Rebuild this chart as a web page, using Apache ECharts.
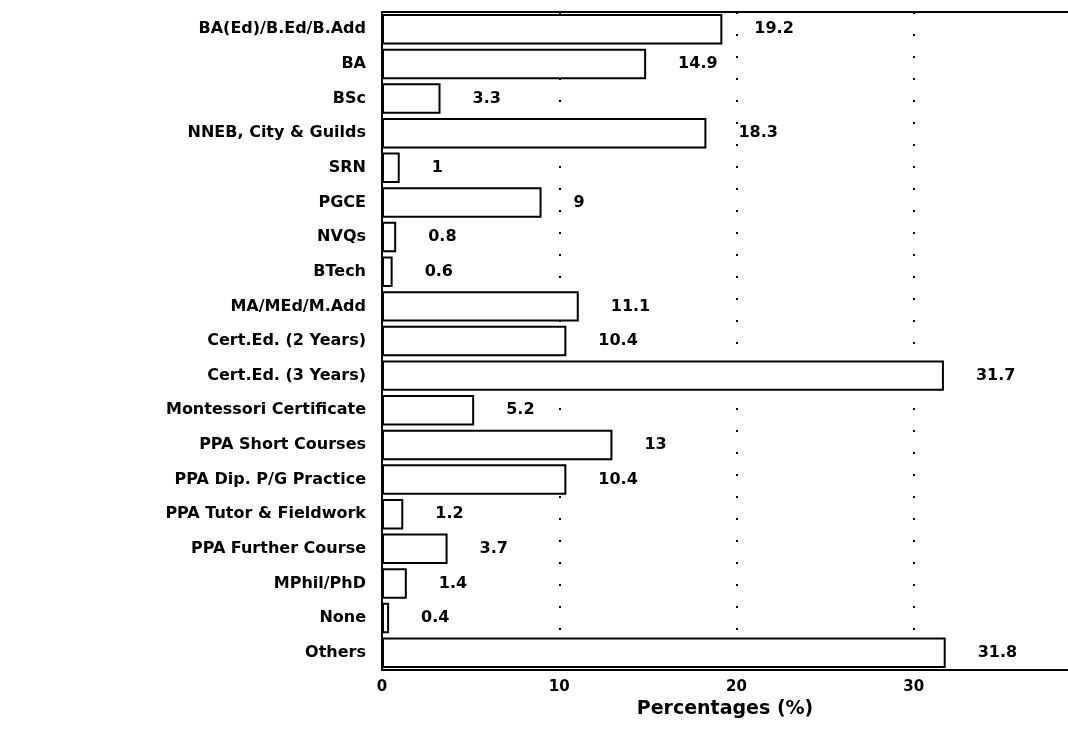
<!DOCTYPE html>
<html>
<head>
<meta charset="utf-8">
<script src="https://cdn.jsdelivr.net/npm/echarts@6/dist/echarts.min.js"></script>
<style>
  html, body { margin: 0; padding: 0; background: #fff; overflow: hidden; }
  #chart { width: 1068px; height: 736px; }
</style>
</head>
<body>
<div id="chart"></div>
<script>
const categories = [
  "BA(Ed)/B.Ed/B.Add", "BA", "BSc", "NNEB, City & Guilds", "SRN", "PGCE", "NVQs", "BTech",
  "MA/MEd/M.Add", "Cert.Ed. (2 Years)", "Cert.Ed. (3 Years)", "Montessori Certificate",
  "PPA Short Courses", "PPA Dip. P/G Practice", "PPA Tutor & Fieldwork", "PPA Further Course",
  "MPhil/PhD", "None", "Others"
];
const values = [19.2, 14.9, 3.3, 18.3, 1, 9, 0.8, 0.6, 11.1, 10.4, 31.7, 5.2, 13, 10.4, 1.2, 3.7, 1.4, 0.4, 31.8];
const axisTitle = "Percentages (%)";

const FONT = '"DejaVu Sans", "Liberation Sans", sans-serif';
const chart = echarts.init(document.getElementById('chart'));
chart.setOption({
  animation: false,
  backgroundColor: '#fff',
  grid: { left: 382, top: 12, right: 0, height: 658 },
  xAxis: [{
    type: 'value', min: 0, max: 38.7, interval: 10, position: 'bottom',
    name: axisTitle, nameLocation: 'middle', nameGap: 28,
    nameTextStyle: { color: '#000', fontFamily: FONT, fontWeight: 'bold', fontSize: 19 },
    axisLine: { show: true, lineStyle: { color: '#000', width: 2 } },
    axisTick: { show: false },
    axisLabel: { color: '#000', fontFamily: FONT, fontWeight: 'bold', fontSize: 15, margin: 10, showMaxLabel: false },
    splitLine: { show: true, showMaxLine: false, lineStyle: { color: '#000', width: 2, type: [2, 20] } }
  }, {
    type: 'value', min: 0, max: 38.7, interval: 10, position: 'top',
    axisLine: { show: true, onZero: false, lineStyle: { color: '#000', width: 2 } },
    axisTick: { show: false },
    axisLabel: { show: false },
    splitLine: { show: false }
  }],
  yAxis: {
    type: 'category', data: categories, inverse: true,
    axisLine: { show: true, lineStyle: { color: '#000', width: 2 } },
    axisTick: { show: false },
    axisLabel: { color: '#000', fontFamily: FONT, fontWeight: 'bold', fontSize: 16, margin: 16 },
    splitLine: { show: false }
  },
  series: [{
    type: 'bar', data: values, barCategoryGap: '12%', xAxisIndex: 0,
    itemStyle: { color: '#fff', borderColor: '#000', borderWidth: 2 },
    label: { show: true, position: 'right', distance: 32, color: '#000', fontFamily: FONT, fontWeight: 'bold', fontSize: 16 }
  }]
});
</script>
</body>
</html>
